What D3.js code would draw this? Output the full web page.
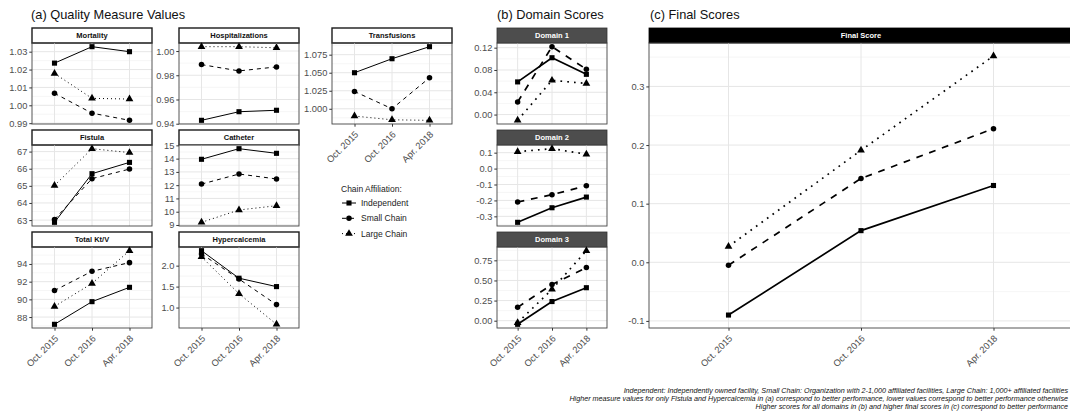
<!DOCTYPE html>
<html>
<head>
<meta charset="utf-8">
<script src="https://cdn.jsdelivr.net/npm/d3@7"></script>
<style>
  body { margin: 0; background: #fff; }
  svg { display: block; font-family: "Liberation Sans", Arial, sans-serif; }
</style>
</head>
<body>
<div id="chart"></div>
<script>
// Chain affiliation quality measures, domain scores and final scores
const periods = ["Oct. 2015", "Oct. 2016", "Apr. 2018"]
const chains = ["Independent", "Small Chain", "Large Chain"]

// each measure: [Independent, Small Chain, Large Chain] x periods
const mortality = [[1.0236, 1.0328, 1.0300], [1.0067, 0.9956, 0.9916], [1.0178, 1.0039, 1.0035]]
const mortalityTicks = ["0.99", "1.00", "1.01", "1.02", "1.03"]

const hospitalizations = [[0.9428, 0.9499, 0.9511], [0.9888, 0.9836, 0.9869], [1.0036, 1.0036, 1.0027]]
const hospitalizationsTicks = ["0.94", "0.96", "0.98", "1.00"]

const transfusions = [[1.0500, 1.0694, 1.0861], [1.0240, 1.0000, 1.0430], [0.9899, 0.9847, 0.9840]]
const transfusionsTicks = ["1.000", "1.025", "1.050", "1.075"]

const fistula = [[62.87, 65.71, 66.37], [63.04, 65.42, 65.98], [65.02, 67.17, 66.94]]
const fistulaTicks = ["63", "64", "65", "66", "67"]

const catheter = [[13.95, 14.75, 14.40], [12.08, 12.84, 12.47], [9.20, 10.13, 10.45]]
const catheterTicks = ["9", "10", "11", "12", "13", "14", "15"]

const totalKtV = [[87.18, 89.74, 91.36], [91.00, 93.17, 94.15], [89.20, 91.80, 95.50]]
const totalKtVTicks = ["88", "90", "92", "94"]

const hypercalcemia = [[2.357, 1.70, 1.50], [2.28, 1.68, 1.07], [2.21, 1.33, 0.60]]
const hypercalcemiaTicks = ["1.0", "1.5", "2.0"]

const domain1 = [[0.0586, 0.1020, 0.0722], [0.0225, 0.1218, 0.0813], [-0.0103, 0.0614, 0.0558]]
const domain1Ticks = ["0.00", "0.04", "0.08", "0.12"]

const domain2 = [[-0.3375, -0.246, -0.179], [-0.210, -0.164, -0.108], [0.106, 0.125, 0.090]]
const domain2Ticks = ["-0.3", "-0.2", "-0.1", "0.0", "0.1"]

const domain3 = [[-0.045, 0.238, 0.410], [0.166, 0.450, 0.660], [-0.025, 0.390, 0.870]]
const domain3Ticks = ["0.00", "0.25", "0.50", "0.75"]

const finalScore = [[-0.090, 0.054, 0.131], [-0.005, 0.143, 0.228], [0.027, 0.191, 0.352]]
const finalScoreTicks = ["-0.1", "0.0", "0.1", "0.2", "0.3"]

const captionLines = [
  "Independent: Independently owned facility, Small Chain: Organization with 2-1,000 affiliated facilities, Large Chain: 1,000+ affiliated facilities",
  "Higher measure values for only Fistula and Hypercalcemia in (a) correspond to better performance, lower values correspond to better performance otherwise",
  "Higher scores for all domains in (b) and higher final scores in (c) correspond to better performance"
]

const width = 1070
const height = 416

const svg = d3.select("#chart")
  .append("svg")
  .attr("width", width)
  .attr("height", height)

const symbols = [d3.symbolSquare, d3.symbolCircle, d3.symbolTriangle]
const symbolSizes = [26, 24, 26]

function dashFor(i, lw) {
  if (i === 1) return `${4 * lw},${4 * lw}`
  if (i === 2) return `${lw},${3 * lw}`
  return null
}

const stripStyles = {
  light: { fill: "#fff", stroke: "#1a1a1a", strokeWidth: 1.4, text: "#111" },
  dark: { fill: "#4d4d4d", stroke: "#333", strokeWidth: 0.8, text: "#fff" },
  black: { fill: "#000", stroke: "#000", strokeWidth: 0.8, text: "#fff" }
}

function drawPanel(p) {
  const g = svg.append("g")
  const stripH = 15
  const top = p.y
  const bottom = p.y + p.h

  // strip
  const st = stripStyles[p.strip]
  g.append("rect")
    .attr("x", p.x).attr("y", top - stripH)
    .attr("width", p.w).attr("height", stripH)
    .attr("fill", st.fill)
    .attr("stroke", st.stroke)
    .attr("stroke-width", st.strokeWidth)
  g.append("text")
    .attr("x", p.x + p.w / 2)
    .attr("y", top - stripH / 2)
    .attr("dy", "0.35em")
    .attr("text-anchor", "middle")
    .style("font-size", "7.5px")
    .style("font-weight", "bold")
    .style("fill", st.text)
    .text(p.label)

  // scales
  const x = d3.scalePoint()
    .domain(periods)
    .range([p.x, p.x + p.w])
    .padding(0.6)

  const flat = p.values.flat()
  const lo = d3.min(flat)
  const hi = d3.max(flat)
  const pad = (hi - lo) * 0.05
  const y = d3.scaleLinear()
    .domain([lo - pad, hi + pad])
    .range([bottom, top])

  const ticks = p.ticks.map(Number)
  const step = ticks[1] - ticks[0]
  const minor = []
  for (let t = ticks[0] - step / 2; t <= hi + pad; t += step) {
    if (t >= lo - pad) minor.push(t)
  }

  // grid
  g.append("g").selectAll("line")
    .data(minor)
    .enter().append("line")
    .attr("x1", p.x).attr("x2", p.x + p.w)
    .attr("y1", d => y(d)).attr("y2", d => y(d))
    .attr("stroke", "#f0f0f0")
    .attr("stroke-width", 0.6)

  g.append("g").selectAll("line")
    .data(ticks)
    .enter().append("line")
    .attr("x1", p.x).attr("x2", p.x + p.w)
    .attr("y1", d => y(d)).attr("y2", d => y(d))
    .attr("stroke", "#e6e6e6")
    .attr("stroke-width", 1)

  g.append("g").selectAll("line")
    .data(periods)
    .enter().append("line")
    .attr("x1", d => x(d)).attr("x2", d => x(d))
    .attr("y1", top).attr("y2", bottom)
    .attr("stroke", "#e6e6e6")
    .attr("stroke-width", 1)

  // axes
  const yAxis = g.append("g")
    .attr("transform", `translate(${p.x},0)`)
    .call(d3.axisLeft(y)
      .tickValues(ticks)
      .tickFormat((d, i) => p.ticks[i])
      .tickSize(2.7)
      .tickPadding(2))
  yAxis.select(".domain").remove()
  yAxis.selectAll("line").attr("stroke", "#333")
  yAxis.selectAll("text")
    .style("font-size", "9.3px")
    .style("font-family", "'Liberation Sans', Arial, sans-serif")
    .attr("fill", "#4d4d4d")

  if (p.showX) {
    const xAxis = g.append("g")
      .attr("transform", `translate(0,${bottom})`)
      .call(d3.axisBottom(x).tickSize(2.7).tickPadding(2))
    xAxis.select(".domain").remove()
    xAxis.selectAll("line").attr("stroke", "#333")
    xAxis.selectAll("text")
      .style("font-size", "9.3px")
      .style("font-family", "'Liberation Sans', Arial, sans-serif")
      .attr("fill", "#4d4d4d")
      .attr("text-anchor", "end")
      .attr("y", 0)
      .attr("dy", "0")
      .attr("transform", "translate(4,11) rotate(-45)")
  }

  // border
  g.append("rect")
    .attr("x", p.x).attr("y", top)
    .attr("width", p.w).attr("height", p.h)
    .attr("fill", "none")
    .attr("stroke", "#444")
    .attr("stroke-width", 0.9)

  // series
  const line = d3.line()
    .x((d, i) => x(periods[i]))
    .y(d => y(d))

  p.values.forEach((series, ci) => {
    g.append("path")
      .datum(series)
      .attr("d", line)
      .attr("fill", "none")
      .attr("stroke", "#000")
      .attr("stroke-width", p.lw)
      .attr("stroke-dasharray", dashFor(ci, p.lw))

    g.append("g").selectAll("path")
      .data(series)
      .enter().append("path")
      .attr("transform", (d, i) => `translate(${x(periods[i])},${y(d)})`)
      .attr("d", d3.symbol().type(symbols[ci]).size(symbolSizes[ci]))
      .attr("fill", "#000")
  })
}

// panel titles
const titles = [
  { text: "(a) Quality Measure Values", x: 31 },
  { text: "(b) Domain Scores", x: 497 },
  { text: "(c) Final Scores", x: 650 }
]
svg.selectAll(".title")
  .data(titles)
  .enter().append("text")
  .attr("class", "title")
  .attr("x", d => d.x)
  .attr("y", 19)
  .style("font-size", "12.8px")
  .style("fill", "#111")
  .text(d => d.text)

// layout for facets
const colX = [32, 179, 332]
const rowY = [43, 145, 247]
const panelW = 120
const panelH = 81

const panelsA = [
  { label: "Mortality", values: mortality, ticks: mortalityTicks, col: 0, row: 0 },
  { label: "Hospitalizations", values: hospitalizations, ticks: hospitalizationsTicks, col: 1, row: 0 },
  { label: "Transfusions", values: transfusions, ticks: transfusionsTicks, col: 2, row: 0, showX: true },
  { label: "Fistula", values: fistula, ticks: fistulaTicks, col: 0, row: 1 },
  { label: "Catheter", values: catheter, ticks: catheterTicks, col: 1, row: 1 },
  { label: "Total Kt/V", values: totalKtV, ticks: totalKtVTicks, col: 0, row: 2, showX: true },
  { label: "Hypercalcemia", values: hypercalcemia, ticks: hypercalcemiaTicks, col: 1, row: 2, showX: true }
]

panelsA.forEach(d => {
  drawPanel({
    ...d,
    x: colX[d.col], y: rowY[d.row], w: panelW, h: panelH,
    strip: "light", lw: 1
  })
})

const panelsB = [
  { label: "Domain 1", values: domain1, ticks: domain1Ticks, row: 0 },
  { label: "Domain 2", values: domain2, ticks: domain2Ticks, row: 1 },
  { label: "Domain 3", values: domain3, ticks: domain3Ticks, row: 2, showX: true }
]

panelsB.forEach(d => {
  drawPanel({
    ...d,
    x: 497, y: rowY[d.row], w: 110, h: panelH,
    strip: "dark", lw: 1.7
  })
})

drawPanel({
  label: "Final Score", values: finalScore, ticks: finalScoreTicks,
  x: 649, y: 43, w: 424, h: 285,
  strip: "black", lw: 1.7, showX: true
})

// legend
const legend = svg.append("g").attr("transform", "translate(341,0)")
legend.append("text")
  .attr("x", 0).attr("y", 189)
  .attr("dy", "0.35em")
  .style("font-size", "8.5px")
  .style("fill", "#222")
  .text("Chain Affiliation:")

chains.forEach((c, i) => {
  const ky = 203 + i * 15.3
  legend.append("line")
    .attr("x1", 1).attr("x2", 15)
    .attr("y1", ky).attr("y2", ky)
    .attr("stroke", "#000")
    .attr("stroke-width", 1)
    .attr("stroke-dasharray", dashFor(i, 1))
  legend.append("path")
    .attr("transform", `translate(8,${ky})`)
    .attr("d", d3.symbol().type(symbols[i]).size(symbolSizes[i]))
    .attr("fill", "#000")
  legend.append("text")
    .attr("x", 20).attr("y", ky)
    .attr("dy", "0.35em")
    .style("font-size", "8.5px")
    .style("fill", "#222")
    .text(c)
})

// caption
svg.selectAll(".caption")
  .data(captionLines)
  .enter().append("text")
  .attr("class", "caption")
  .attr("x", 1068)
  .attr("y", (d, i) => 392.5 + i * 8)
  .attr("text-anchor", "end")
  .style("font-size", "7.2px")
  .style("font-style", "italic")
  .style("fill", "#111")
  .text(d => d)
</script>
</body>
</html>
